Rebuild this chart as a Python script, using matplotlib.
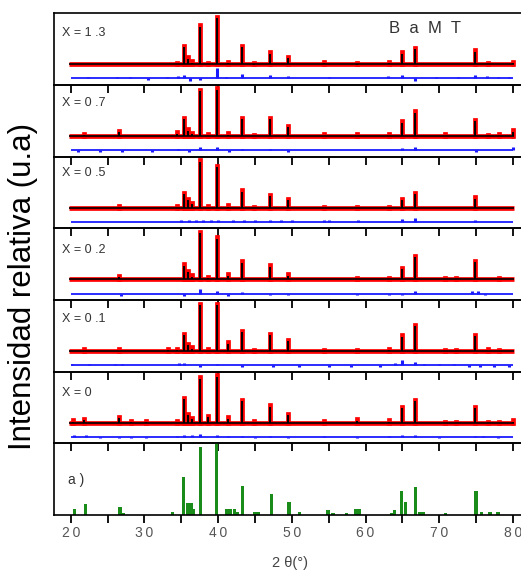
import numpy as np
import matplotlib
matplotlib.use("Agg")
import matplotlib.pyplot as plt
from matplotlib.ticker import MultipleLocator

plt.rcParams['font.family'] = ['Liberation Sans', 'DejaVu Sans']

# --- DATA ---

# common reflection positions (2 theta) used for the observed / calculated patterns
PEAKS_2T = [20.3, 21.8, 26.6, 28.2, 30.2, 33.2, 34.4, 35.3, 35.9, 36.5, 37.5, 38.6, 39.8, 41.4, 43.3,
            44.8, 47.1, 49.5, 54.4, 58.8, 63.2, 64.9, 66.7, 70.8, 72.3, 74.9, 76.6, 78.1, 80.0]

# relative intensities per composition (same order as PEAKS_2T)
OBS_X13 = [0, 0, 0, 0, 0, 0, 0.03, 0.39, 0.14, 0.06, 0.82, 0.03, 1.0, 0.05, 0.39,
           0.02, 0.25, 0.16, 0.05, 0.02, 0.05, 0.25, 0.34, 0, 0, 0.29, 0.03, 0, 0.05]
OBS_X07 = [0, 0.04, 0.10, 0, 0, 0, 0.07, 0.38, 0.14, 0.06, 0.97, 0.03, 1.0, 0.05, 0.38,
           0.02, 0.38, 0.21, 0.03, 0.03, 0.03, 0.31, 0.52, 0.03, 0, 0.34, 0.02, 0.03, 0.12]
OBS_X05 = [0, 0, 0.03, 0, 0, 0, 0.03, 0.31, 0.18, 0.10, 1.0, 0.03, 0.88, 0.05, 0.36,
           0.02, 0.27, 0.18, 0.02, 0.02, 0.02, 0.18, 0.31, 0, 0, 0.22, 0, 0, 0]
OBS_X02 = [0, 0, 0.07, 0, 0, 0, 0, 0.32, 0.18, 0.08, 1.0, 0.05, 0.89, 0.10, 0.38,
           0, 0.29, 0.10, 0, 0.03, 0.03, 0.24, 0.50, 0.03, 0.03, 0.39, 0, 0.03, 0]
OBS_X01 = [0, 0.03, 0.03, 0, 0, 0.04, 0.05, 0.36, 0.15, 0.08, 1.0, 0.03, 1.0, 0.18, 0.42,
           0.02, 0.36, 0.24, 0.02, 0.02, 0.04, 0.33, 0.55, 0.02, 0.02, 0.34, 0.03, 0.02, 0]
OBS_X00 = [0.05, 0.08, 0.12, 0.04, 0.04, 0, 0.03, 0.52, 0.19, 0.10, 0.96, 0.15, 1.0, 0.11, 0.48,
           0.03, 0.37, 0.19, 0.03, 0.07, 0.05, 0.33, 0.48, 0.02, 0.02, 0.33, 0.02, 0.02, 0.05]

# difference curves (position, value)
DIFF_POS_X13 = [22.3, 26.3, 28.0, 30.5, 33.0, 34.5, 35.3, 36.2, 37.5, 39.8, 41.0, 43.3, 47.1, 49.5,
                55.0, 63.0, 64.9, 66.7, 69.5, 72.5, 74.9, 76.5, 78.0, 79.5]
DIFF_VAL_X13 = [0.02, 0.02, 0.02, -0.02, 0.02, 0.03, 0.05, -0.03, -0.02, 0.15, 0.02, 0.06, 0.05, 0.03,
                0.02, 0.03, 0.05, -0.04, 0.02, 0.02, 0.05, 0.03, 0.02, 0.02]
DIFF_POS_X07 = [21.0, 24.0, 27.0, 31.0, 34.5, 36.0, 37.5, 39.8, 41.5, 43.3, 47.1, 49.5, 64.9, 66.7, 75.0, 80.0]
DIFF_VAL_X07 = [-0.02, -0.02, -0.02, -0.02, 0.02, -0.02, 0.04, 0.05, -0.02, 0.02, 0.02, -0.02, 0.03, 0.04, -0.02, 0.04]
DIFF_POS_X05 = [35.0, 36.0, 37.0, 38.0, 39.0, 40.0, 42.0, 43.5, 45.0, 47.1, 48.5, 50.0, 54.4, 55.0, 59.0, 64.9, 66.7, 74.9]
DIFF_VAL_X05 = [0.03, 0.03, 0.03, 0.03, 0.03, 0.03, 0.03, 0.03, 0.02, 0.03, 0.02, 0.02, 0.02, 0.02, 0.02, 0.04, 0.05, 0.03]
DIFF_POS_X02 = [26.8, 35.3, 37.5, 39.8, 41.4, 43.3, 47.1, 49.5, 58.8, 63.2, 65.0, 66.7, 74.5, 75.2, 76.2]
DIFF_VAL_X02 = [-0.03, -0.04, 0.07, 0.04, -0.03, 0.02, -0.02, -0.02, -0.02, -0.02, -0.02, 0.04, 0.03, 0.04, -0.02]
DIFF_POS_X01 = [20.2, 22.5, 26.0, 27.0, 34.7, 35.3, 37.5, 39.8, 43.3, 47.5, 51.0, 55.0, 58.0, 62.0, 64.0, 64.9,
                66.7, 68.0, 70.0, 72.0, 74.0, 75.5, 77.5, 79.5]
DIFF_VAL_X01 = [0.02, 0.02, 0.02, 0.02, 0.03, 0.03, -0.02, 0.02, -0.02, -0.02, -0.02, -0.02, -0.02, -0.02, 0.03, 0.07,
                0.05, 0.02, 0.02, 0.02, -0.03, -0.02, -0.02, -0.02]
DIFF_POS_X00 = [20.5, 22.0, 24.0, 26.6, 28.2, 30.2, 34.4, 35.3, 36.5, 37.5, 39.8, 41.4, 43.3, 45.0, 47.1, 49.5,
                54.4, 58.8, 63.2, 64.9, 66.7, 70.0, 74.9, 76.0, 78.0]
DIFF_VAL_X00 = [0.03, 0.03, -0.02, -0.02, -0.02, -0.02, 0.02, 0.03, 0.03, 0.04, 0.03, 0.02, 0.02, -0.02, 0.02, -0.02,
                0.02, -0.02, 0.02, 0.03, 0.03, -0.02, 0.02, 0.02, -0.02]

# reference pattern (green bars)
REF_2T = [20.5, 22.0, 26.7, 27.2, 33.8, 35.3, 35.8, 36.3, 36.7, 37.6, 39.8, 41.2, 41.7, 42.2, 42.6, 43.3,
          45.0, 45.5, 47.2, 49.6, 51.0, 54.9, 55.6, 57.4, 58.7, 59.2, 63.5, 63.9, 64.9, 65.4, 66.8, 67.4,
          67.9, 70.9, 75.0, 75.7, 76.9, 78.0]
REF_INT = [0.09, 0.15, 0.12, 0.03, 0.04, 0.53, 0.17, 0.17, 0.09, 0.95, 1.0, 0.09, 0.09, 0.09, 0.04, 0.41,
           0.04, 0.04, 0.30, 0.18, 0.04, 0.07, 0.03, 0.03, 0.09, 0.09, 0.03, 0.07, 0.33, 0.18, 0.39, 0.05,
           0.05, 0.03, 0.33, 0.05, 0.04, 0.05]

PANEL_LABELS = ["X = 1 .3", "X = 0 .7", "X = 0 .5", "X = 0 .2", "X = 0 .1", "X = 0"]
PANEL_OBS = [OBS_X13, OBS_X07, OBS_X05, OBS_X02, OBS_X01, OBS_X00]
PANEL_DIFF = [(DIFF_POS_X13, DIFF_VAL_X13), (DIFF_POS_X07, DIFF_VAL_X07), (DIFF_POS_X05, DIFF_VAL_X05),
              (DIFF_POS_X02, DIFF_VAL_X02), (DIFF_POS_X01, DIFF_VAL_X01), (DIFF_POS_X00, DIFF_VAL_X00)]
LABEL_Y = [0.72, 0.75, 0.77, 0.70, 0.73, 0.71]

XTICKS = [20, 30, 40, 50, 60, 70, 80]
XTICK_LABELS = ["2\u20090", "3\u20090", "4\u20090", "5\u20090", "6\u20090", "7\u20090", "8\u20090"]

BASE_OBS = 0.29
BASE_DIFF = 0.09
SCALE = 0.66
TXT = '#333333'


def plot_pattern(ax, obs, diff, label, ly):
    obs = np.array(obs)
    pk = np.array(PEAKS_2T)
    m = obs > 0
    ax.hlines(BASE_OBS, 19.7, 80.2, color='#ff0000', lw=3.4)
    ax.vlines(pk[m], BASE_OBS, BASE_OBS + SCALE * obs[m], color='#ff0000', lw=3.4, capstyle='projecting')
    ax.hlines(BASE_OBS, 19.7, 80.2, color='black', lw=1.2)
    ax.vlines(pk[m], BASE_OBS, BASE_OBS + SCALE * obs[m] - 0.02, color='black', lw=1.4)

    dpos, dval = diff
    ax.hlines(BASE_DIFF, 20, 80, color='#1a1aff', lw=1.3)
    ax.vlines(dpos, BASE_DIFF, BASE_DIFF + np.array(dval), color='#1a1aff', lw=2.2)

    ax.text(0.016, ly, label, transform=ax.transAxes, fontsize=9, color=TXT, va='center', ha='left')


fig, axes = plt.subplots(7, 1, figsize=(5.21, 5.73), dpi=100, sharex=True)
fig.subplots_adjust(left=0.104, right=1.0, top=0.977, bottom=0.101, hspace=0)

for i, ax in enumerate(axes):
    ax.set_facecolor('none')
    ax.set_xlim(17.75, 81.1)
    ax.set_ylim(0, 1)
    ax.set_yticks([])
    ax.set_xticks(XTICKS)
    ax.xaxis.set_minor_locator(MultipleLocator(5))
    ax.tick_params(axis='x', which='both', direction='out', length=6, width=1.3,
                   top=False, labelbottom=False)
    for s in ['left', 'top', 'bottom']:
        ax.spines[s].set_linewidth(1.2)
    ax.spines['right'].set_visible(False)

for ax, obs, diff, lab, ly in zip(axes[:6], PANEL_OBS, PANEL_DIFF, PANEL_LABELS, LABEL_Y):
    plot_pattern(ax, obs, diff, lab, ly)

axes[0].text(68.1, 0.79, "B  a  M  T", fontsize=12, color=TXT, ha='center', va='center')

# reference pattern
ax = axes[6]
ax.bar(REF_2T, REF_INT, width=0.45, color='#1a8c1a', linewidth=0)
ax.text(0.03, 0.49, "a )", transform=ax.transAxes, fontsize=10, color=TXT, va='center', ha='left')
ax.tick_params(axis='x', labelbottom=True, labelsize=10, labelcolor='#555555', pad=2)
ax.set_xticklabels(XTICK_LABELS)

fig.text(0.044, 0.50, "Intensidad relativa (u.a)", rotation=90, fontsize=22.5,
         ha='center', va='center', color='black')
fig.text(0.557, 0.017, "2 θ(°)", fontsize=10.5, color='#444444', ha='center', va='center')

fig.savefig("out.png", dpi=100)
